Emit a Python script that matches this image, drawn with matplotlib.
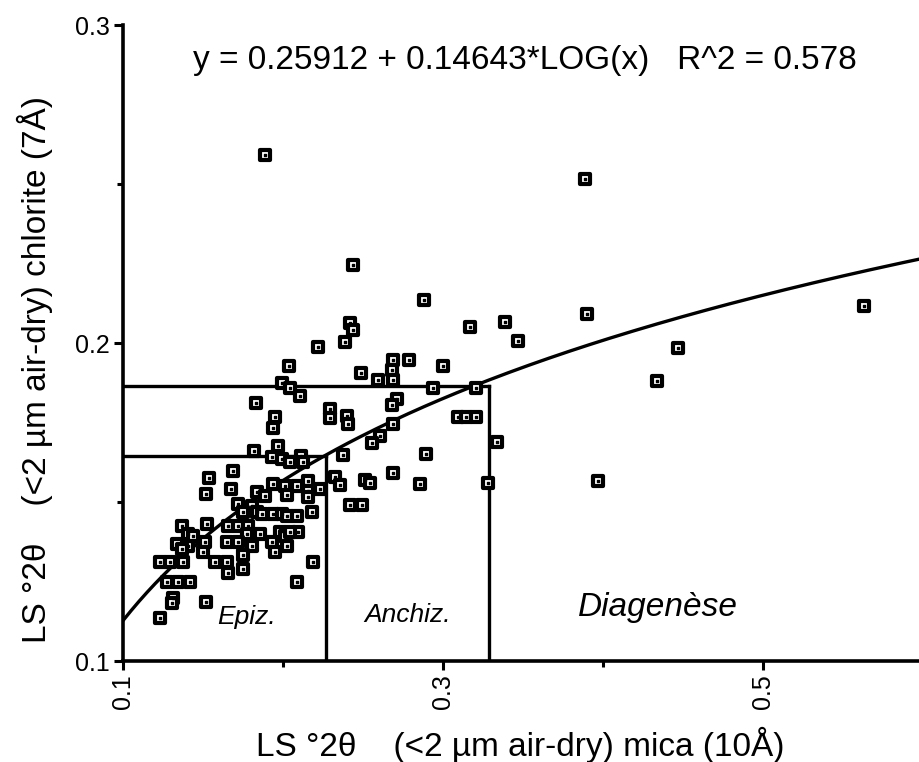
import numpy as np
import matplotlib
matplotlib.use("Agg")
import matplotlib.pyplot as plt

plt.rcParams['font.family'] = ['Liberation Sans', 'DejaVu Sans']

# LS mica (x) vs LS chlorite (y), degrees 2 theta
mica = [0.189, 0.2438, 0.3888, 0.2881, 0.39, 0.3388, 0.3169, 0.3469, 0.5631, 0.4469,
        0.4338, 0.2419, 0.2438, 0.2388, 0.2219, 0.2038, 0.2488, 0.2688, 0.2788, 0.2681,
        0.2594, 0.2688, 0.3, 0.1994, 0.2044, 0.2106, 0.2938, 0.3206, 0.1831, 0.195,
        0.1938, 0.2294, 0.2294, 0.24, 0.2406, 0.2713, 0.2681, 0.3094, 0.3144, 0.3206,
        0.3338, 0.2688, 0.2606, 0.2556, 0.2894, 0.2375, 0.2688, 0.3969, 0.3281, 0.2856,
        0.1819, 0.1969, 0.1931, 0.1994, 0.2113, 0.2125, 0.2044, 0.2325, 0.2356, 0.2513,
        0.2544, 0.1688, 0.1538, 0.1519, 0.1675, 0.1838, 0.1888, 0.1938, 0.2013, 0.2088,
        0.2156, 0.2156, 0.2025, 0.2156, 0.2231, 0.2419, 0.2494, 0.2181, 0.1719, 0.1806,
        0.1838, 0.175, 0.1869, 0.1938, 0.1994, 0.2025, 0.2088, 0.2094, 0.1981, 0.2013,
        0.1369, 0.1406, 0.1525, 0.1656, 0.1719, 0.1781, 0.1775, 0.1856, 0.165, 0.1719,
        0.1806, 0.1338, 0.1406, 0.1513, 0.15, 0.1931, 0.195, 0.2025, 0.175, 0.1231,
        0.1294, 0.1575, 0.165, 0.1375, 0.1656, 0.175, 0.2188, 0.2088, 0.1275, 0.1344,
        0.1419, 0.1313, 0.1519, 0.1231, 0.1438, 0.2044, 0.1369, 0.1306]
chlorite = [0.259, 0.2247, 0.2516, 0.2136, 0.2092, 0.2066, 0.2051, 0.2006, 0.2117, 0.1984,
            0.188, 0.2063, 0.2041, 0.2003, 0.1987, 0.1927, 0.1905, 0.1946, 0.1946, 0.1915,
            0.1883, 0.1883, 0.1927, 0.1873, 0.1858, 0.1835, 0.1858, 0.1858, 0.1813, 0.1769,
            0.1734, 0.1794, 0.1763, 0.1772, 0.1744, 0.1823, 0.1804, 0.1769, 0.1769, 0.1766,
            0.169, 0.1747, 0.1709, 0.1687, 0.1652, 0.1649, 0.1592, 0.1566, 0.156, 0.1557,
            0.1661, 0.1677, 0.1642, 0.1636, 0.1646, 0.1627, 0.1627, 0.1579, 0.1554, 0.157,
            0.156, 0.1598, 0.1576, 0.1525, 0.1541, 0.1532, 0.1519, 0.1557, 0.1551, 0.1551,
            0.1566, 0.1535, 0.1522, 0.1516, 0.1541, 0.1491, 0.1491, 0.1468, 0.1494, 0.1487,
            0.1468, 0.1468, 0.1462, 0.1462, 0.1462, 0.1456, 0.1456, 0.1405, 0.1405, 0.1392,
            0.1424, 0.1399, 0.143, 0.1424, 0.1424, 0.1424, 0.1399, 0.1399, 0.1373, 0.1373,
            0.1361, 0.1367, 0.1361, 0.1373, 0.1342, 0.1373, 0.1342, 0.1361, 0.1335, 0.1313,
            0.131, 0.1313, 0.1313, 0.131, 0.1278, 0.1288, 0.1313, 0.1247, 0.125, 0.125,
            0.125, 0.1199, 0.1187, 0.1136, 0.1392, 0.1405, 0.1351, 0.1184]

# fit y = a + b*log10(x)
fit_a = 0.25912
fit_b = 0.14643
equation = "y = 0.25912 + 0.14643*LOG(x)   R^2 = 0.578"

# zone limits on the mica axis and where they meet the fit
limit_x = [0.227, 0.329]
limit_y = [0.1644, 0.1866]
zones = ["Epiz.", "Anchiz.", "Diagenèse"]


def main():
    fig = plt.figure(figsize=(9.19, 7.62), dpi=100)
    ax = fig.add_axes([0.1338, 0.1325, 0.8705, 0.8346])

    ax.set_xlim(0.1, 0.6)
    ax.set_ylim(0.1, 0.3)

    # regression curve
    xs = np.linspace(0.1, 0.6, 200)
    ax.plot(xs, fit_a + fit_b * np.log10(xs), color='black', lw=2.4, zorder=2)

    # zone boxes
    for lx, ly in zip(limit_x, limit_y):
        ax.plot([0.1, lx], [ly, ly], color='black', lw=2.4, zorder=2)
        ax.plot([lx, lx], [0.1, ly], color='black', lw=2.4, zorder=2)

    # samples: open square with a dot inside
    ax.scatter(mica, chlorite, marker='s', s=58, facecolor='white',
               edgecolor='black', linewidths=3.0, zorder=3, clip_on=False)
    ax.scatter(mica, chlorite, marker='s', s=3, color='black', zorder=4,
               clip_on=False)

    ax.text(0.1588, 0.1139, zones[0], fontsize=19, style='italic', ha='left', va='center')
    ax.text(0.278, 0.1146, zones[1], fontsize=19, style='italic', ha='center', va='center')
    ax.text(0.4344, 0.1168, zones[2], fontsize=24, style='italic', ha='center', va='center')

    for side in ['top', 'right']:
        ax.spines[side].set_visible(False)
    for side in ['left', 'bottom']:
        ax.spines[side].set_linewidth(2.6)

    ax.set_xticks([0.1, 0.3, 0.5])
    ax.set_xticklabels(['0.1', '0.3', '0.5'], rotation=90, fontsize=18)
    ax.set_xticks([0.2, 0.4], minor=True)
    ax.set_yticks([0.1, 0.2, 0.3])
    ax.set_yticklabels(['0.1', '0.2', '0.3'], fontsize=18)
    ax.set_yticks([0.15, 0.25], minor=True)
    ax.tick_params(which='major', direction='out', length=6.5, width=2.2, pad=3)
    ax.tick_params(which='minor', direction='out', length=4.5, width=2.2)

    fig.text(0.038, 0.5157, "LS °2θ    (<2 µm air-dry) chlorite (7Å)", rotation=90,
             ha='center', va='center', fontsize=24)
    fig.text(0.566, 0.0223, "LS °2θ    (<2 µm air-dry) mica (10Å)",
             ha='center', va='center', fontsize=24)
    fig.text(0.21, 0.921, equation, ha='left', va='center', fontsize=24)

    fig.savefig("out.png", dpi=100)


if __name__ == '__main__':
    main()
